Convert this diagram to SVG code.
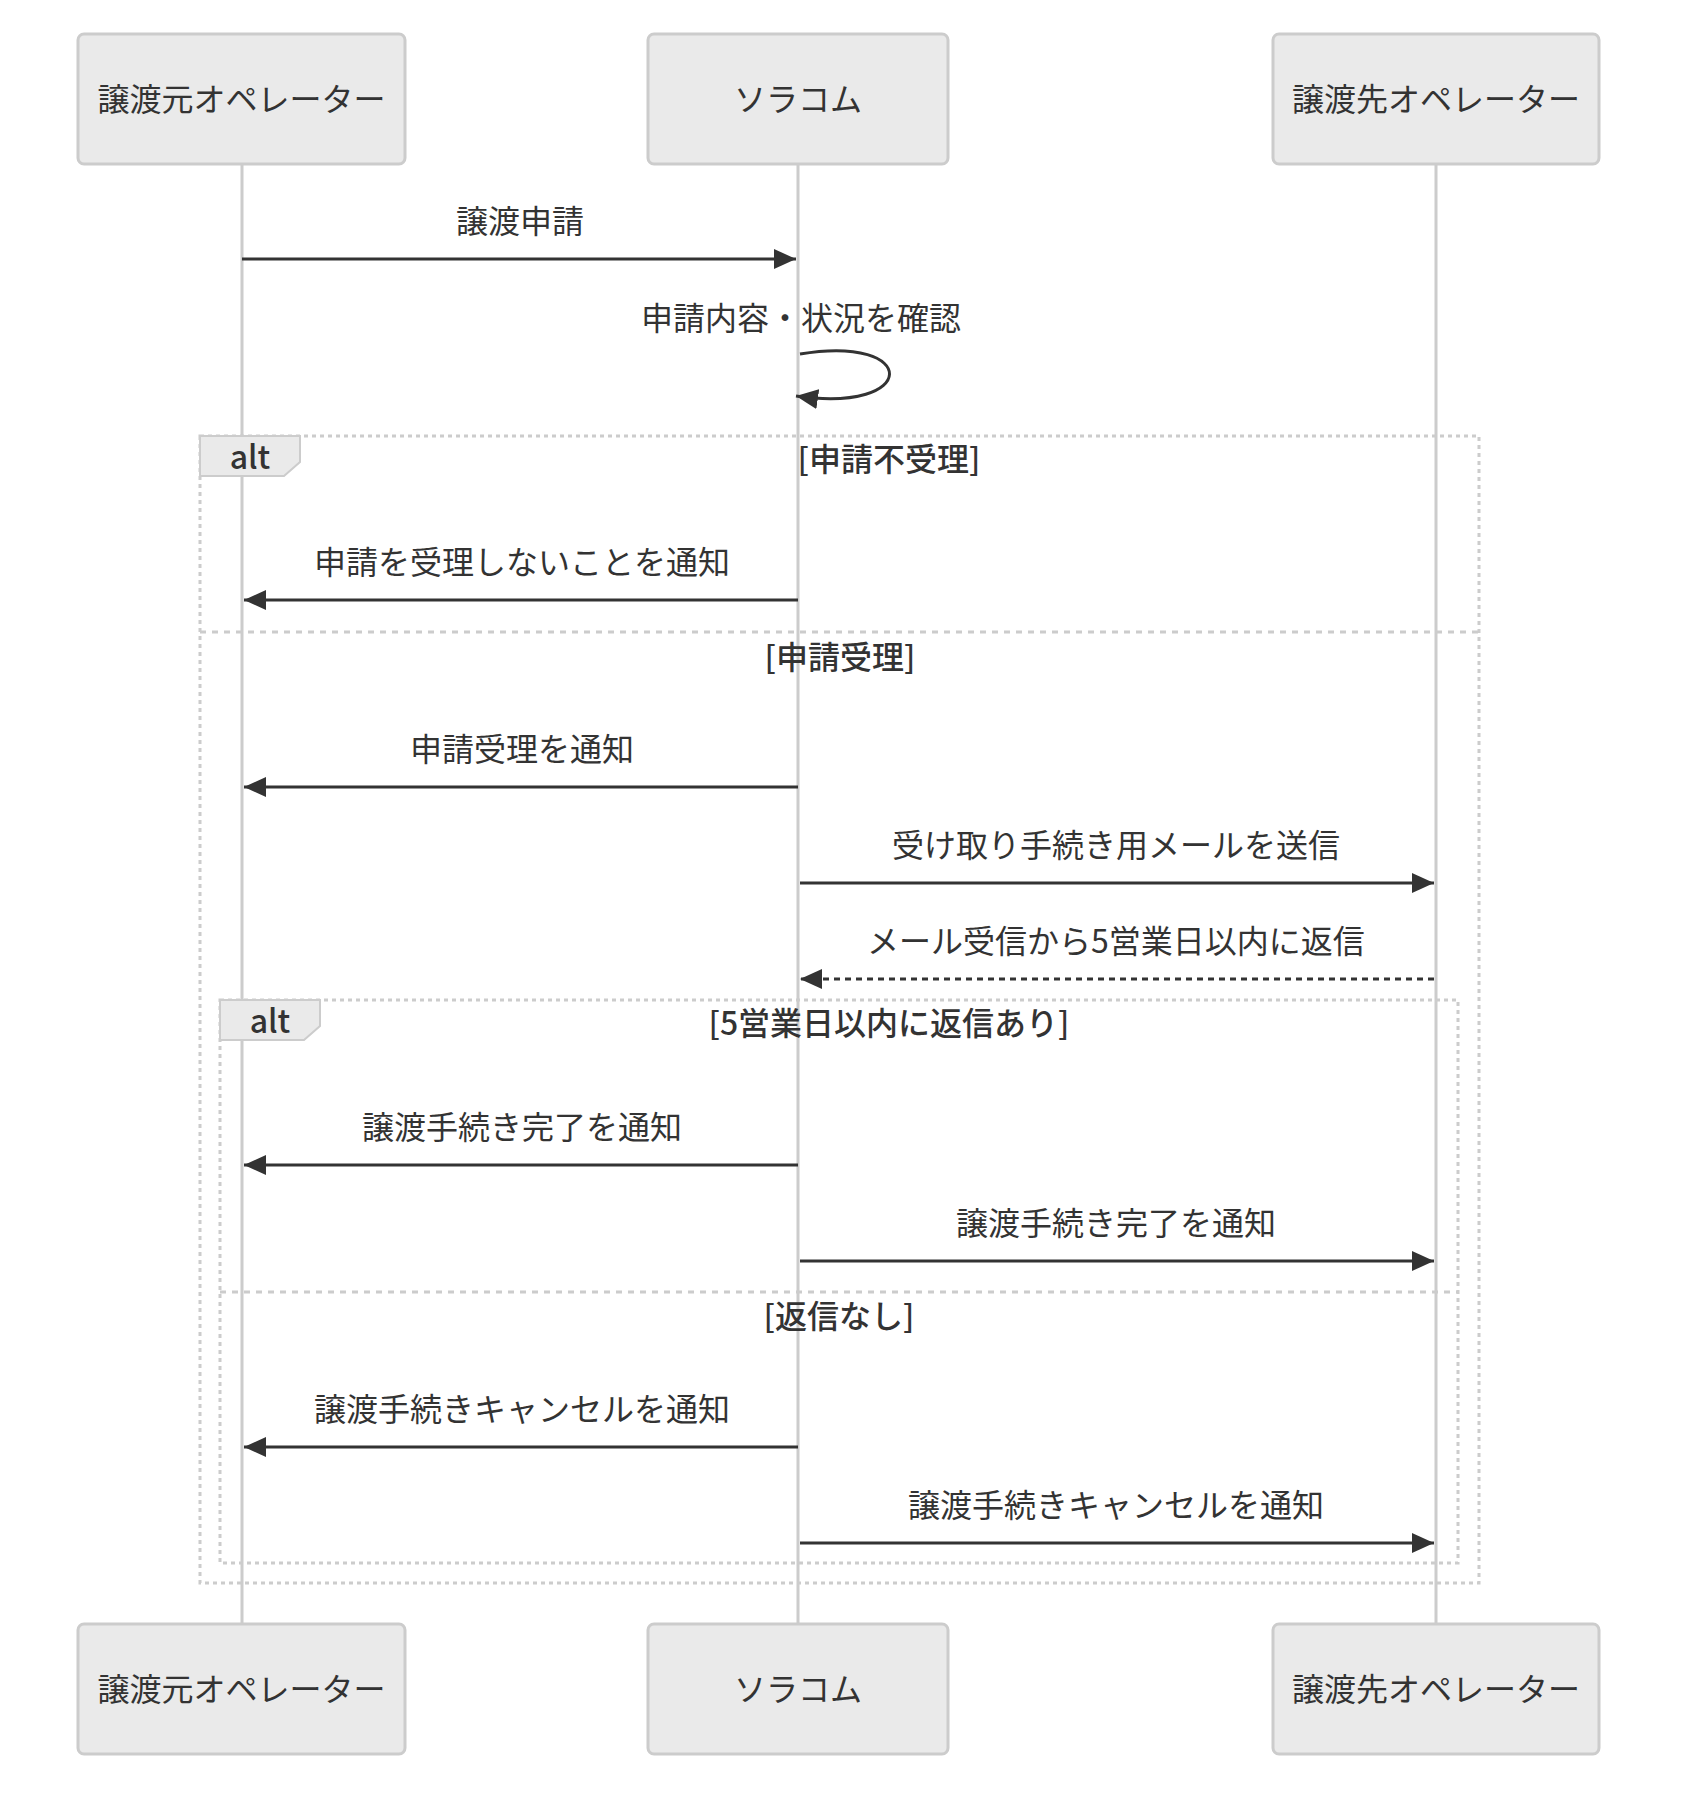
<svg xmlns="http://www.w3.org/2000/svg" width="1690" height="1800" viewBox="0 0 1690 1800">
<style>
text{font-family:"Noto Sans CJK JP","Noto Sans",sans-serif;fill:#333;font-size:32px;text-anchor:middle;dominant-baseline:central}
.cond{font-weight:500}
.actor{fill:#eaeaea;stroke:#cccccc;stroke-width:3}
.life{stroke:#cccccc;stroke-width:3}
.msg{stroke:#333;stroke-width:3;fill:none}
.dot{stroke-dasharray:6,5}
.loop{fill:none;stroke:#cccccc;stroke-width:3;stroke-dasharray:4,4}
.sep{fill:none;stroke:#cccccc;stroke-width:3;stroke-dasharray:6,6}
.tab{fill:#eaeaea;stroke:#cccccc;stroke-width:2}
</style>
<defs>
<marker id="ah" markerUnits="userSpaceOnUse" viewBox="0 0 22 20" markerWidth="22" markerHeight="20" refX="22" refY="10" orient="auto"><path d="M0,0 L22,10 L0,20 z" fill="#333"/></marker>
</defs>
<g id="lifelines">
<line class="life" x1="242" y1="164" x2="242" y2="1624"/>
<line class="life" x1="798" y1="164" x2="798" y2="1624"/>
<line class="life" x1="1436" y1="164" x2="1436" y2="1624"/>
</g>
<g id="alt-outer">
<rect class="loop" x="200" y="436" width="1279" height="1147"/>
<line class="sep" x1="200" y1="632" x2="1479" y2="632"/>
<polygon class="tab" points="200,436 300,436 300,462 284,476 200,476"/>
<text class="cond" x="250" y="455">alt</text>
<text class="cond" x="889" y="457">[申請不受理]</text>
<text class="cond" x="840" y="655">[申請受理]</text>
</g>
<g id="alt-inner">
<rect class="loop" x="220" y="1000" width="1238" height="563"/>
<line class="sep" x1="220" y1="1292" x2="1458" y2="1292"/>
<polygon class="tab" points="220,1000 320,1000 320,1026 304,1040 220,1040"/>
<text class="cond" x="270" y="1019">alt</text>
<text class="cond" x="889" y="1021">[5営業日以内に返信あり]</text>
<text class="cond" x="839" y="1314">[返信なし]</text>
</g>
<g id="connectors">
<line class="msg" x1="242" y1="259" x2="796" y2="259" marker-end="url(#ah)"/>
<text x="520" y="219">譲渡申請</text>
<path class="msg" d="M800,354 C920,334 920,414 796,396" marker-end="url(#ah)"/>
<text x="801" y="316">申請内容・状況を確認</text>
<line class="msg" x1="798" y1="600" x2="244" y2="600" marker-end="url(#ah)"/>
<text x="522" y="560">申請を受理しないことを通知</text>
<line class="msg" x1="798" y1="787" x2="244" y2="787" marker-end="url(#ah)"/>
<text x="522" y="747">申請受理を通知</text>
<line class="msg" x1="800" y1="883" x2="1434" y2="883" marker-end="url(#ah)"/>
<text x="1116" y="843">受け取り手続き用メールを送信</text>
<line class="msg dot" x1="1434" y1="979" x2="800" y2="979" marker-end="url(#ah)"/>
<text x="1116" y="939">メール受信から5営業日以内に返信</text>
<line class="msg" x1="798" y1="1165" x2="244" y2="1165" marker-end="url(#ah)"/>
<text x="522" y="1125">譲渡手続き完了を通知</text>
<line class="msg" x1="800" y1="1261" x2="1434" y2="1261" marker-end="url(#ah)"/>
<text x="1116" y="1221">譲渡手続き完了を通知</text>
<line class="msg" x1="798" y1="1447" x2="244" y2="1447" marker-end="url(#ah)"/>
<text x="522" y="1407">譲渡手続きキャンセルを通知</text>
<line class="msg" x1="800" y1="1543" x2="1434" y2="1543" marker-end="url(#ah)"/>
<text x="1116" y="1503">譲渡手続きキャンセルを通知</text>
</g>
<g id="actor-src-top"><rect class="actor" x="78" y="34" width="327" height="130" rx="6"/><text x="241.5" y="97">譲渡元オペレーター</text></g>
<g id="actor-soracom-top"><rect class="actor" x="648" y="34" width="300" height="130" rx="6"/><text x="798" y="97">ソラコム</text></g>
<g id="actor-dst-top"><rect class="actor" x="1273" y="34" width="326" height="130" rx="6"/><text x="1436" y="97">譲渡先オペレーター</text></g>
<g id="actor-src-bottom"><rect class="actor" x="78" y="1624" width="327" height="130" rx="6"/><text x="241.5" y="1687">譲渡元オペレーター</text></g>
<g id="actor-soracom-bottom"><rect class="actor" x="648" y="1624" width="300" height="130" rx="6"/><text x="798" y="1687">ソラコム</text></g>
<g id="actor-dst-bottom"><rect class="actor" x="1273" y="1624" width="326" height="130" rx="6"/><text x="1436" y="1687">譲渡先オペレーター</text></g>
</svg>
